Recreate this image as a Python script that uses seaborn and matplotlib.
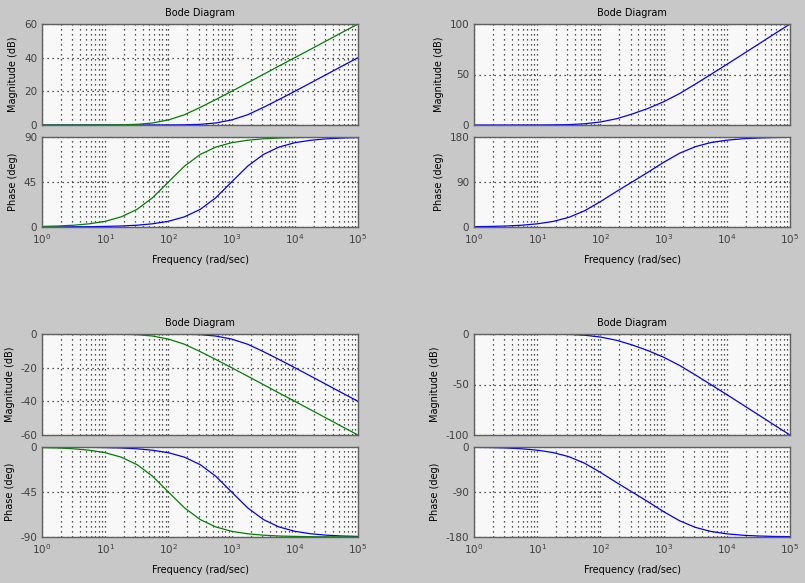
import matplotlib
matplotlib.use('Agg')
from matplotlib import pyplot as plt
from matplotlib.ticker import LogLocator, NullFormatter, FixedLocator
import pandas as pd
import seaborn as sns

# frequencies (rad/sec), 4 samples per decade
freq = [1, 1.8, 3.2, 5.6, 10, 18, 32, 56, 100, 180, 320, 560,
        1000, 1800, 3200, 5600, 10000, 18000, 32000, 56000, 100000]

# top left: two first order zeros (green corner ~1e2, blue corner ~1e3)
tl_mag_green = [0, 0, 0, 0, 0.04, 0.14, 0.4, 1.2, 3.0, 6.1, 10.5, 15.1,
                20, 25.1, 30.1, 35, 40, 45.1, 50.1, 55, 60]
tl_mag_blue = [0, 0, 0, 0, 0, 0, 0, 0.01, 0.04, 0.14, 0.4, 1.2,
               3.0, 6.1, 10.5, 15.1, 20, 25.1, 30.1, 35, 40]
tl_ph_green = [0.6, 1.0, 1.8, 3.2, 5.7, 10.2, 17.7, 29.2, 45, 60.9, 72.6, 79.9,
               84.3, 86.8, 88.2, 89.0, 89.4, 89.7, 89.8, 89.9, 89.9]
tl_ph_blue = [0.06, 0.1, 0.2, 0.3, 0.6, 1.0, 1.8, 3.2, 5.7, 10.2, 17.7, 29.2,
              45, 60.9, 72.6, 79.9, 84.3, 86.8, 88.2, 89.0, 89.4]

# top right: second order (zeros ~1e2 and ~1e3)
tr_mag = [0, 0, 0, 0, 0.04, 0.14, 0.4, 1.2, 3.0, 6.2, 10.9, 16.3,
          23.0, 31.2, 40.6, 50.1, 60, 70.2, 80.2, 90, 100]
tr_ph = [0.7, 1.1, 2.0, 3.5, 6.3, 11.2, 19.5, 32.4, 50.7, 71.1, 90.3, 109.1,
         129.3, 147.7, 160.8, 168.9, 173.7, 176.5, 178.0, 178.9, 179.3]

# bottom left: two first order poles
bl_mag_green = [0, 0, 0, 0, -0.04, -0.14, -0.4, -1.2, -3.0, -6.1, -10.5, -15.1,
                -20, -25.1, -30.1, -35, -40, -45.1, -50.1, -55, -60]
bl_mag_blue = [0, 0, 0, 0, 0, 0, 0, -0.01, -0.04, -0.14, -0.4, -1.2,
               -3.0, -6.1, -10.5, -15.1, -20, -25.1, -30.1, -35, -40]
bl_ph_green = [-0.6, -1.0, -1.8, -3.2, -5.7, -10.2, -17.7, -29.2, -45, -60.9, -72.6, -79.9,
               -84.3, -86.8, -88.2, -89.0, -89.4, -89.7, -89.8, -89.9, -89.9]
bl_ph_blue = [-0.06, -0.1, -0.2, -0.3, -0.6, -1.0, -1.8, -3.2, -5.7, -10.2, -17.7, -29.2,
              -45, -60.9, -72.6, -79.9, -84.3, -86.8, -88.2, -89.0, -89.4]

# bottom right: second order low pass
br_mag = [0, 0, 0, 0, -0.04, -0.14, -0.4, -1.2, -3.0, -6.2, -10.9, -16.3,
          -23.0, -31.2, -40.6, -50.1, -60, -70.2, -80.2, -90, -100]
br_ph = [-0.7, -1.1, -2.0, -3.5, -6.3, -11.2, -19.5, -32.4, -50.7, -71.1, -90.3, -109.1,
         -129.3, -147.7, -160.8, -168.9, -173.7, -176.5, -178.0, -178.9, -179.3]

BLUE = '#0000ff'
GREEN = '#008000'
BG = '#c8c8c8'
FACE = '#f8f8f8'
EDGE = '#606060'
TXT = '#404040'

sns.set_theme(style='white')
plt.rcParams['font.family'] = ['DejaVu Sans']
plt.rcParams['font.size'] = 7
plt.rcParams['axes.unicode_minus'] = False

fig = plt.figure(figsize=(8.05, 5.83), dpi=100, facecolor=BG)
W, H = 805.0, 583.0
DOTS = (0, (1, 3))


def make_ax(x0, x1, y0, y1):
    # pixel box -> figure fraction
    ax = fig.add_axes([x0 / W, 1 - y1 / H, (x1 - x0) / W, (y1 - y0) / H])
    ax.set_facecolor(FACE)
    ax.set_xscale('log')
    ax.set_xlim(1, 1e5)
    for s in ax.spines.values():
        s.set_color(EDGE)
        s.set_linewidth(1.0)
    ax.xaxis.set_major_locator(LogLocator(base=10, numticks=10))
    ax.xaxis.set_minor_locator(LogLocator(base=10, subs=range(2, 10), numticks=100))
    ax.xaxis.set_minor_formatter(NullFormatter())
    ax.tick_params(axis='both', which='both', direction='in', colors=EDGE,
                   labelcolor=TXT, labelsize=7.5, length=3)
    ax.tick_params(axis='x', which='minor', length=2)
    ax.grid(True, which='major', color='#202020', linestyle=DOTS, linewidth=0.9)
    ax.grid(True, which='minor', axis='x', color='#202020', linestyle=DOTS, linewidth=0.9)
    return ax


def draw(ax, ys, colors):
    for y, c in zip(ys, colors):
        df = pd.DataFrame({'w': freq, 'v': y})
        sns.lineplot(data=df, x='w', y='v', ax=ax, color=c, linewidth=0.9)
    ax.set_xlabel('')
    ax.set_ylabel('')


panels = [
    # x0, x1, top row y, mags, phases, colors, mag lim/ticks, phase lim/ticks
    (42, 358, 0, [tl_mag_blue, tl_mag_green], [tl_ph_blue, tl_ph_green], [BLUE, GREEN],
     (0, 60), [0, 20, 40, 60], (0, 90), [0, 45, 90]),
    (474, 790, 0, [tr_mag], [tr_ph], [BLUE],
     (0, 100), [0, 50, 100], (0, 180), [0, 90, 180]),
    (42, 358, 310, [bl_mag_blue, bl_mag_green], [bl_ph_blue, bl_ph_green], [BLUE, GREEN],
     (-60, 0), [-60, -40, -20, 0], (-90, 0), [-90, -45, 0]),
    (474, 790, 310, [br_mag], [br_ph], [BLUE],
     (-100, 0), [-100, -50, 0], (-180, 0), [-180, -90, 0]),
]

for x0, x1, dy, mags, phs, cols, mlim, mticks, plim, pticks in panels:
    axm = make_ax(x0, x1, 24 + dy, 125 + dy)
    draw(axm, mags, cols)
    axm.set_ylim(*mlim)
    axm.yaxis.set_major_locator(FixedLocator(mticks))
    axm.tick_params(axis='x', labelbottom=False)
    axm.set_title('Bode Diagram', fontsize=7, color='black', pad=6)
    axm.set_ylabel('Magnitude (dB)', fontsize=7, color='black', labelpad=4)

    axp = make_ax(x0, x1, 137 + dy, 227 + dy)
    draw(axp, phs, cols)
    axp.set_ylim(*plim)
    axp.yaxis.set_major_locator(FixedLocator(pticks))
    axp.set_ylabel('Phase (deg)', fontsize=7, color='black', labelpad=4)
    axp.set_xlabel('Frequency (rad/sec)', fontsize=7, color='black', labelpad=7)
    axp.set_xlim(1, 1e5)

fig.savefig('out.png', dpi=100, facecolor=BG)
